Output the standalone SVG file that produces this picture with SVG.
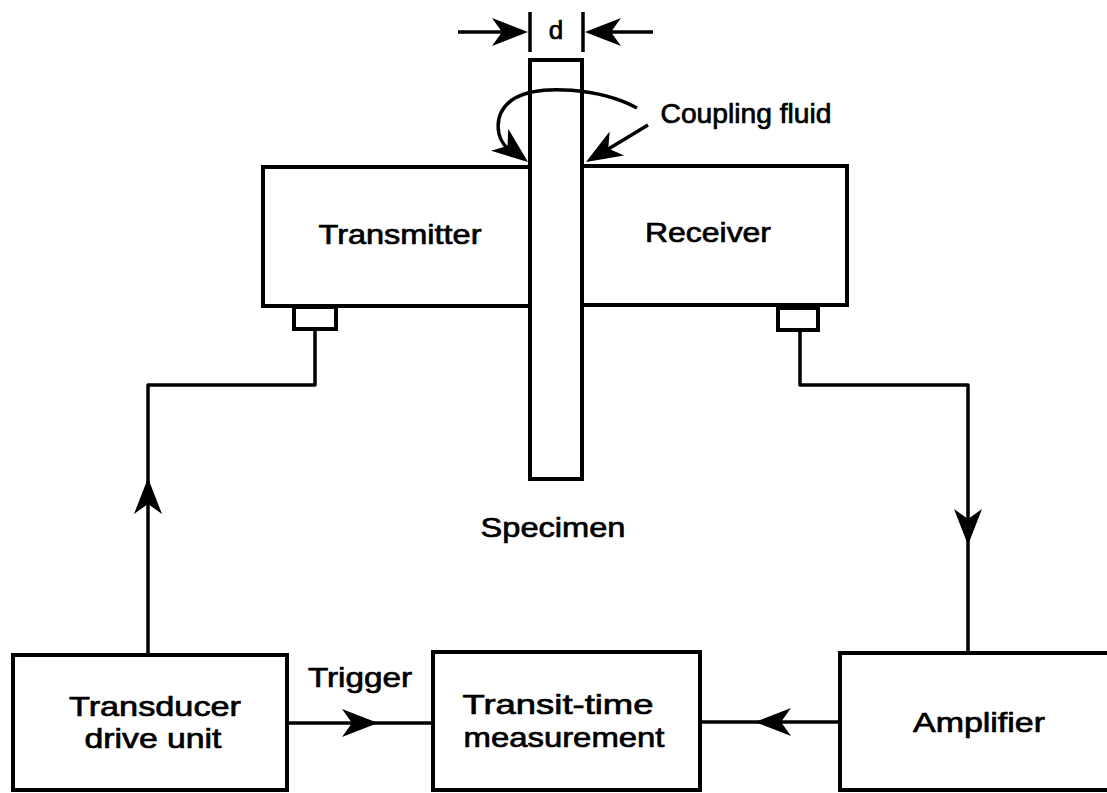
<svg xmlns="http://www.w3.org/2000/svg" xmlns:xlink="http://www.w3.org/1999/xlink" width="1107" height="793" viewBox="0 0 1107 793">
<style>
.box{fill:none;stroke:#000;stroke-width:4}
.ln{fill:none;stroke:#000;stroke-width:3.5;stroke-linejoin:round}
.t{font-family:"Liberation Sans",Arial,sans-serif;font-size:28px;fill:#000;text-anchor:middle;stroke:#000;stroke-width:0.7}
</style>
<defs>
<path id="ah" d="M0,0 L-36,-14 L-26,0 L-36,14 Z" fill="#000"/>
</defs>
<rect width="1107" height="793" fill="#fff"/>
<g id="specimen">
<rect class="box" x="530" y="60" width="52" height="419"/>
<text class="t" x="553" y="537" textLength="145" lengthAdjust="spacingAndGlyphs">Specimen</text>
</g>
<g id="thickness">
<line class="ln" x1="530" y1="12" x2="530" y2="52"/>
<line class="ln" x1="583" y1="12" x2="583" y2="52"/>
<line class="ln" x1="458" y1="32" x2="505" y2="32"/>
<use xlink:href="#ah" transform="translate(528,32)"/>
<line class="ln" x1="653" y1="32" x2="607" y2="32"/>
<use xlink:href="#ah" transform="translate(585,32) rotate(180)"/>
<text class="t" x="556" y="39" style="font-size:26px">d</text>
</g>
<g id="transmitter">
<path class="box" d="M530,167 H263 V306 H530"/>
<rect class="box" x="294" y="307" width="42" height="22"/>
<text class="t" x="400" y="244" textLength="163" lengthAdjust="spacingAndGlyphs">Transmitter</text>
</g>
<g id="receiver">
<path class="box" d="M582,166 H847 V305 H582"/>
<rect class="box" x="778" y="308" width="40" height="22"/>
<text class="t" x="708" y="242" textLength="126" lengthAdjust="spacingAndGlyphs">Receiver</text>
</g>
<g id="coupling">
<text class="t" x="746" y="123" textLength="171" lengthAdjust="spacingAndGlyphs">Coupling fluid</text>
<path class="ln" d="M637,108 C600,88 540,84 515,98 C492,112 494,140 512,152"/>
<use xlink:href="#ah" transform="translate(528,162) rotate(38)"/>
<line class="ln" x1="648" y1="125" x2="605" y2="151"/>
<use xlink:href="#ah" transform="translate(586,162) rotate(149)"/>
</g>
<g id="transducer">
<rect class="box" x="13" y="655" width="274" height="135"/>
<text class="t" x="155" y="716" textLength="172" lengthAdjust="spacingAndGlyphs">Transducer</text>
<text class="t" x="153" y="748" textLength="137" lengthAdjust="spacingAndGlyphs">drive unit</text>
</g>
<g id="transit">
<rect class="box" x="433" y="652" width="267" height="138"/>
<text class="t" x="558" y="714" textLength="191" lengthAdjust="spacingAndGlyphs">Transit-time</text>
<text class="t" x="564" y="747" textLength="201" lengthAdjust="spacingAndGlyphs">measurement</text>
</g>
<g id="amplifier">
<path class="box" d="M1110,653 H840 V790 H1110"/>
<text class="t" x="979" y="732" textLength="132" lengthAdjust="spacingAndGlyphs">Amplifier</text>
</g>
<g id="connectors">
<path class="ln" d="M315,329 V385 H148 V655"/>
<use xlink:href="#ah" transform="translate(148,478) rotate(-90)"/>
<path class="ln" d="M800,330 V385 H968 V653"/>
<use xlink:href="#ah" transform="translate(968,545) rotate(90)"/>
<line class="ln" x1="287" y1="723" x2="433" y2="723"/>
<use xlink:href="#ah" transform="translate(378,723)"/>
<text class="t" x="360" y="687" textLength="104" lengthAdjust="spacingAndGlyphs">Trigger</text>
<line class="ln" x1="840" y1="722" x2="700" y2="722"/>
<use xlink:href="#ah" transform="translate(755,722) rotate(180)"/>
</g>
</svg>
